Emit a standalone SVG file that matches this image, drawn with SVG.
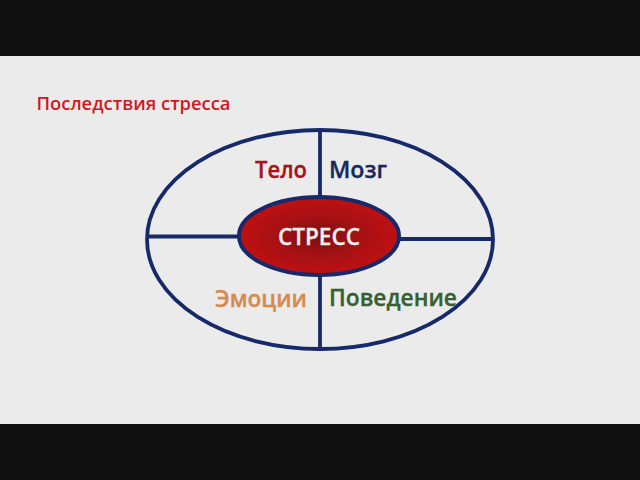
<svg xmlns="http://www.w3.org/2000/svg" width="640" height="480" viewBox="0 0 640 480">
  <style>
    text { font-family: "Open Sans", "Noto Sans", sans-serif; font-weight: 600; }
    .label { font-size: 24px; stroke-width: 0.35px; }
    .line { stroke: #17296a; stroke-width: 3.8; fill: none; }
  </style>
  <defs>
    <radialGradient id="redFill" cx="0.5" cy="0.5" r="0.5">
      <stop offset="0" stop-color="#7c0f12"/>
      <stop offset="0.55" stop-color="#a81114"/>
      <stop offset="1" stop-color="#bf1012"/>
    </radialGradient>
    <filter id="soft" x="-5%" y="-5%" width="110%" height="110%"><feGaussianBlur stdDeviation="0.5"/></filter>
  </defs>
  <rect width="640" height="480" fill="#0f0f0f"/>
  <rect y="56" width="640" height="368" fill="#ebebeb"/>
  <text x="36.500" y="110" font-size="18.400" fill="#d2181f">Последствия стресса</text>
  <g id="connectors" filter="url(#soft)">
    <line class="line" x1="320" y1="131" x2="320" y2="197"/>
    <line class="line" x1="320" y1="275" x2="320" y2="348"/>
    <line class="line" x1="148" y1="236.500" x2="239" y2="236.500"/>
    <line class="line" x1="399" y1="239" x2="492" y2="239"/>
  </g>
  <g id="outer" filter="url(#soft)">
    <ellipse class="line" cx="320" cy="239.500" rx="173" ry="109.500"/>
  </g>
  <g id="stress">
    <ellipse cx="319" cy="236" rx="80" ry="39" fill="url(#redFill)" stroke="#17296a" stroke-width="4"/>
    <text class="label" x="278" y="244.500" fill="#f7eeee" stroke="#f7eeee" textLength="82" lengthAdjust="spacingAndGlyphs">СТРЕСС</text>
  </g>
  <g id="telo"><text class="label" x="255" y="177.500" fill="#a81218" stroke="#a81218" textLength="52" lengthAdjust="spacingAndGlyphs">Тело</text></g>
  <g id="mozg"><text class="label" x="329" y="177.500" fill="#16295f" stroke="#16295f" textLength="58" lengthAdjust="spacingAndGlyphs">Мозг</text></g>
  <g id="emotions"><text class="label" x="215" y="306.500" fill="#d58a4e" stroke="#d58a4e" textLength="92" lengthAdjust="spacingAndGlyphs">Эмоции</text></g>
  <g id="behavior"><text class="label" x="329" y="306" fill="#35602f" stroke="#35602f" textLength="128" lengthAdjust="spacingAndGlyphs">Поведение</text></g>
</svg>
